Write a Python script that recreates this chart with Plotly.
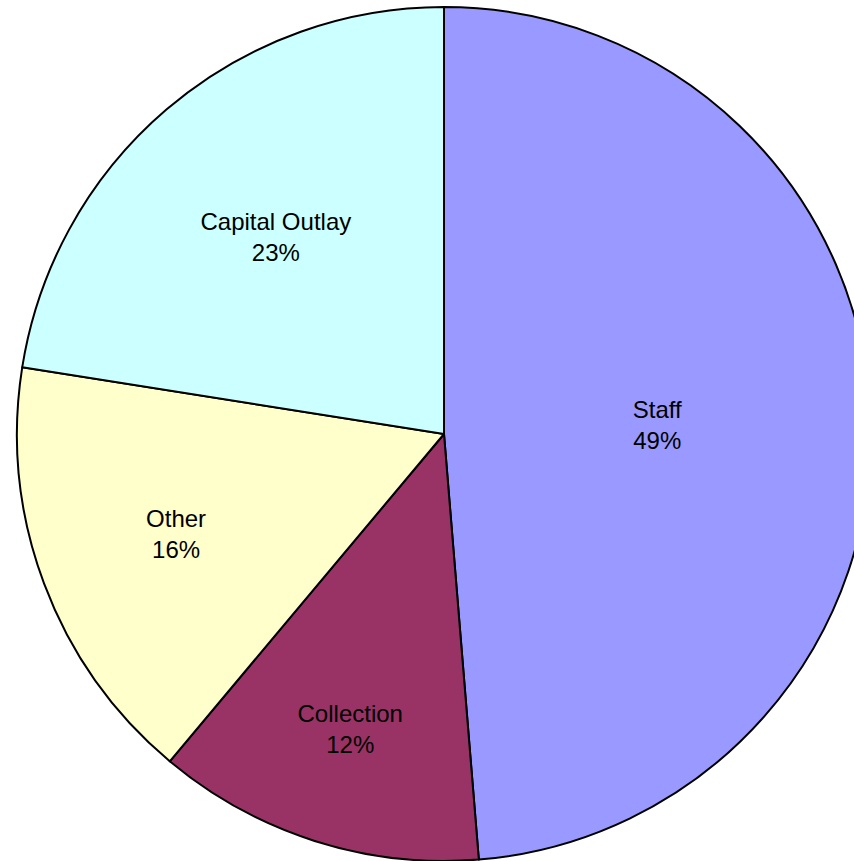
import plotly.graph_objects as go

categories = ["Staff", "Collection", "Other", "Capital Outlay"]
values = [48.7, 12.4, 16.4, 22.5]
colors = ["#9999FF", "#993366", "#FFFFCC", "#CCFFFF"]

fig = go.Figure(go.Pie(
    labels=categories,
    values=values,
    sort=False,
    direction="clockwise",
    rotation=0,
    marker=dict(colors=colors, line=dict(color="black", width=2)),
    texttemplate="%{label}<br>%{percent:.0%}",
    textposition="inside",
    insidetextorientation="horizontal",
    textfont=dict(family="Liberation Sans, Arial, sans-serif", size=24, color="black"),
    showlegend=False,
    hoverinfo="label+percent",
))

fig.update_layout(
    width=871,
    height=861,
    margin=dict(l=17, r=0, t=7, b=0),
    paper_bgcolor="white",
    plot_bgcolor="white",
    showlegend=False,
)

fig.write_html(
    "out.html",
    config={"displayModeBar": False},
    post_script="document.body.style.margin='0';document.body.style.overflow='hidden';document.documentElement.style.overflow='hidden';",
)
